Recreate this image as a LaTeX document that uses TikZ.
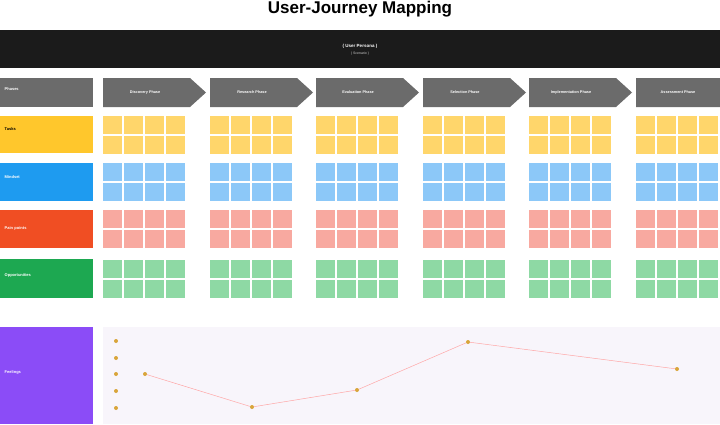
\documentclass[tikz,border=0pt]{standalone}
\usepackage{fontspec}
\setmainfont{Liberation Sans}
\usetikzlibrary{shapes.arrows,shapes.symbols}
\definecolor{barblack}{HTML}{1B1B1B}
\definecolor{phasegray}{HTML}{6B6B6B}
\definecolor{taskyellow}{HTML}{FFC72C}
\definecolor{mindblue}{HTML}{1E9BF0}
\definecolor{painred}{HTML}{F04E23}
\definecolor{oppgreen}{HTML}{1DA851}
\definecolor{feelpurple}{HTML}{8B4CF7}
\definecolor{noteyellow}{HTML}{FFD66B}
\definecolor{noteblue}{HTML}{8CC8F8}
\definecolor{notepink}{HTML}{F8A9A0}
\definecolor{notegreen}{HTML}{8ED9A4}
\definecolor{panel}{HTML}{F8F5FB}
\definecolor{dotgold}{HTML}{D9A53A}
\tikzset{
  rowlabel/.style={anchor=north west,minimum width=93pt,inner sep=0pt,text=white,font=\bfseries\fontsize{4}{5}\selectfont,align=left,text width=88pt},
  note/.style={fill=#1,draw=none},
  feel/.style={circle,fill=dotgold,inner sep=0pt,minimum size=4pt},
}
\begin{document}
\begin{tikzpicture}[x=1pt,y=-1pt]
    \useasboundingbox (0,0) rectangle (720,424);
    \node[font=\bfseries\fontsize{17}{20}\selectfont] (title) at (360,9) {User-Journey Mapping};
    \fill[barblack] (0,30) rectangle (720,68); %Persona bar
    \node[text=white,font=\bfseries\fontsize{4.5}{5}\selectfont] (persona) at (360,46) {( User Persona )};
    \node[text=white!80!black,font=\fontsize{3.5}{4}\selectfont] (scenario) at (360,53.5) {( Scenario )};
    % row labels
    \fill[phasegray] (0,78) rectangle (93,107);
    \node[rowlabel,minimum height=10pt] (phases) at (2,84) {Phases};
    \fill[taskyellow] (0,116) rectangle (93,153);
    \node[rowlabel,text=black] (tasks) at (2,127) {Tasks};
    \fill[mindblue] (0,163) rectangle (93,201);
    \node[rowlabel] (mindset) at (2,175) {Mindset};
    \fill[painred] (0,210) rectangle (93,248);
    \node[rowlabel] (pain) at (2,226) {Pain points};
    \fill[oppgreen] (0,259) rectangle (93,298);
    \node[rowlabel] (opp) at (2,273) {Opportunities};
    \fill[feelpurple] (0,327) rectangle (93,424);
    \node[rowlabel] (feelings) at (2,370) {Feelings};
    % phases and sticky notes
    \foreach \x/\name in {103/Discovery Phase,210/Research Phase,316/Evaluation Phase,423/Selection Phase,529/Implementation Phase,636/Assessment Phase}{
        \fill[phasegray] (\x,78) -- (\x+87,78) -- (\x+103,92.5) -- (\x+87,107) -- (\x,107) -- cycle;
        \node[text=white,font=\bfseries\fontsize{3.8}{4}\selectfont] at (\x+42,92.5) {\name};
        \foreach \c in {0,1,2,3}{
            \foreach \y/\col in {116/noteyellow,136/noteyellow,163/noteblue,183/noteblue,210/notepink,230/notepink,260/notegreen,280/notegreen}{
                \fill[note=\col] (\x+\c*21,\y) rectangle ++(19,17.5);
            }
        }
    }
    % feelings chart
    \fill[panel] (103,327) rectangle (720,424);
    \foreach \y in {341,358,374,391,408}{
        \node[feel] at (116,\y) {};
    }
    \node[feel] (f1) at (145,374) {};
    \node[feel] (f2) at (252,407) {};
    \node[feel] (f3) at (357,390) {};
    \node[feel] (f4) at (468,342) {};
    \node[feel] (f5) at (677,369) {};
    \draw[red!35,line width=0.5pt] (f1) -- (f2) -- (f3) -- (f4) -- (f5);
\end{tikzpicture}
\end{document}
